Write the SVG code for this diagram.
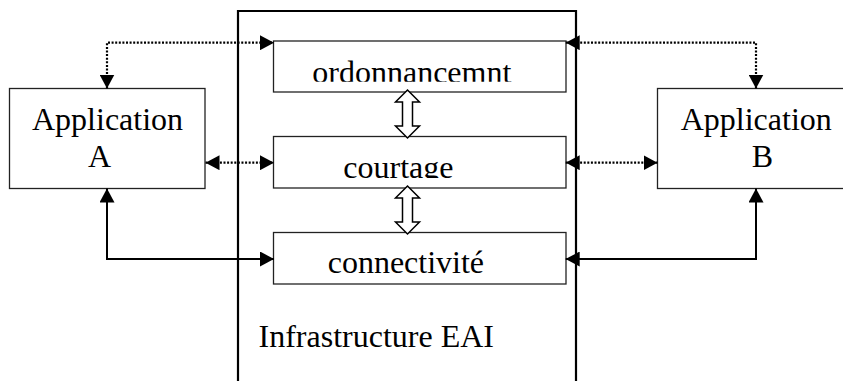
<svg xmlns="http://www.w3.org/2000/svg" width="843" height="381" viewBox="0 0 843 381">
<style>
.box{fill:#fff;stroke:#222;stroke-width:1.3}
.infra{fill:none;stroke:#000;stroke-width:2.2}
.t{font-family:"Liberation Serif","Times New Roman",serif;font-size:32px;fill:#000}
.dot{fill:none;stroke:#000;stroke-width:2.2;stroke-dasharray:2 1.6}
.sol{fill:none;stroke:#000;stroke-width:2}
.blk{fill:#fff;stroke:#000;stroke-width:1.5}
</style>
<defs>
<marker id="ah" viewBox="0 0 14 15" refX="14" refY="7.5" markerWidth="14" markerHeight="15" markerUnits="userSpaceOnUse" orient="auto-start-reverse">
<path d="M0,0 L14,7.5 L0,15 z" fill="#000"/>
</marker>
<clipPath id="clipOrd"><rect x="273" y="41" width="293" height="40.8"/></clipPath>
<clipPath id="clipCour"><rect x="273" y="136" width="293" height="42"/></clipPath>
</defs>

<g id="infrastructure">
<path class="infra" d="M238,390 V11 H576 V390"/>
<text class="t" x="258.5" y="346.5">Infrastructure EAI</text>
</g>

<g id="ordonnancement">
<rect class="box" x="273.5" y="41" width="292.5" height="51"/>
<text class="t" x="312.3" y="82.5" clip-path="url(#clipOrd)">ordonnancemnt</text>
</g>

<g id="courtage">
<rect class="box" x="273.5" y="136.5" width="292.5" height="51.5"/>
<text class="t" x="343.3" y="178.3" clip-path="url(#clipCour)">courtage</text>
</g>

<g id="connectivite">
<rect class="box" x="273.5" y="232.5" width="292.5" height="51.5"/>
<text class="t" x="327.7" y="273.3">connectivité</text>
</g>

<g id="appA">
<rect class="box" x="9.5" y="88.5" width="195.5" height="100"/>
<text class="t" x="32" y="130">Application</text>
<text class="t" x="88" y="166.7">A</text>
</g>

<g id="appB">
<rect class="box" x="657.5" y="88.5" width="200" height="100"/>
<text class="t" x="680.7" y="130">Application</text>
<text class="t" x="751.7" y="166.7">B</text>
</g>

<g id="connectors">
<path class="dot" d="M107,88.5 V42.7 H274" marker-start="url(#ah)" marker-end="url(#ah)"/>
<path class="dot" d="M205.5,162.7 H274" marker-start="url(#ah)" marker-end="url(#ah)"/>
<path class="sol" d="M107,188.5 V259 H274" marker-start="url(#ah)" marker-end="url(#ah)"/>
<path class="dot" d="M756,88.5 V42.7 H565.7" marker-start="url(#ah)" marker-end="url(#ah)"/>
<path class="dot" d="M565.7,162.7 H657.5" marker-start="url(#ah)" marker-end="url(#ah)"/>
<path class="sol" d="M756,188.5 V259 H565.7" marker-start="url(#ah)" marker-end="url(#ah)"/>
<path class="blk" d="M407.5,90 L419.5,102 H412.5 V126 H419.5 L407.5,138 L395.5,126 H402.5 V102 H395.5 Z"/>
<path class="blk" d="M407.5,186 L419.5,198 H412.5 V222 H419.5 L407.5,234 L395.5,222 H402.5 V198 H395.5 Z"/>
</g>
</svg>
